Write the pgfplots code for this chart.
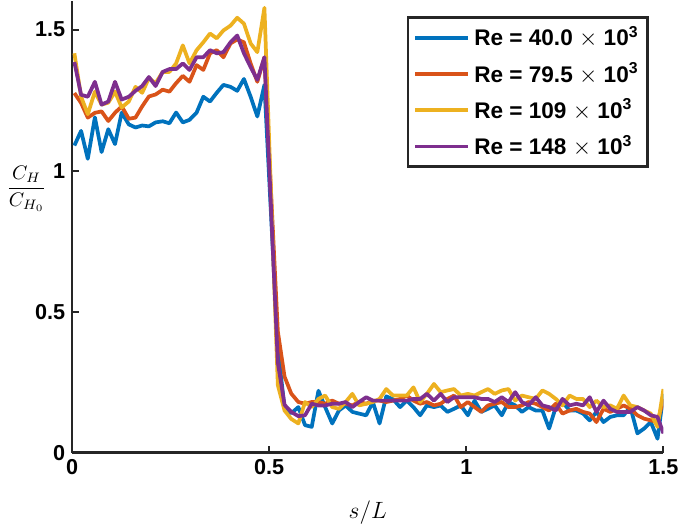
\documentclass[border=0pt]{standalone}
\usepackage{pgfplots}
\usepackage{pgfplotstable}
\pgfplotsset{compat=1.18}
\usepackage{fontspec}
\setmainfont{Liberation Sans}
\definecolor{mb}{rgb}{0,0.447,0.741}
\definecolor{mo}{rgb}{0.85,0.325,0.098}
\definecolor{my}{rgb}{0.929,0.694,0.125}
\definecolor{mp}{rgb}{0.494,0.184,0.556}
\definecolor{axc}{rgb}{0.15,0.15,0.15}
\pgfplotstableread{
x B O Y P
0.006 1.089 1.275 1.416 1.385
0.023 1.141 1.240 1.262 1.269
0.040 1.042 1.188 1.200 1.262
0.058 1.189 1.205 1.280 1.315
0.075 1.066 1.210 1.234 1.234
0.092 1.147 1.176 1.241 1.245
0.109 1.094 1.205 1.280 1.315
0.126 1.206 1.228 1.224 1.252
0.144 1.164 1.184 1.245 1.262
0.161 1.153 1.188 1.297 1.283
0.178 1.160 1.228 1.276 1.300
0.195 1.157 1.263 1.328 1.332
0.212 1.171 1.270 1.310 1.300
0.230 1.175 1.287 1.350 1.350
0.247 1.168 1.280 1.350 1.360
0.264 1.206 1.310 1.380 1.360
0.281 1.171 1.336 1.444 1.380
0.298 1.180 1.315 1.380 1.357
0.316 1.206 1.374 1.427 1.402
0.333 1.262 1.357 1.455 1.402
0.350 1.245 1.416 1.486 1.427
0.367 1.276 1.427 1.469 1.416
0.384 1.304 1.402 1.497 1.420
0.402 1.297 1.451 1.514 1.455
0.419 1.283 1.465 1.542 1.479
0.436 1.325 1.455 1.521 1.416
0.453 1.262 1.380 1.451 1.367
0.470 1.192 1.315 1.420 1.322
0.488 1.304 1.402 1.577 1.402
0.522 0.370 0.430 0.240 0.320
0.539 0.160 0.270 0.150 0.170
0.556 0.140 0.210 0.120 0.145
0.574 0.162 0.180 0.104 0.130
0.591 0.098 0.174 0.180 0.133
0.608 0.092 0.180 0.162 0.174
0.625 0.220 0.180 0.191 0.168
0.642 0.162 0.174 0.203 0.168
0.660 0.104 0.185 0.162 0.174
0.677 0.150 0.174 0.156 0.174
0.694 0.168 0.174 0.180 0.180
0.711 0.145 0.168 0.209 0.162
0.728 0.139 0.180 0.168 0.180
0.746 0.133 0.174 0.174 0.197
0.763 0.180 0.185 0.180 0.185
0.780 0.104 0.185 0.191 0.185
0.797 0.200 0.180 0.226 0.185
0.814 0.190 0.185 0.203 0.185
0.832 0.162 0.191 0.203 0.185
0.849 0.185 0.203 0.203 0.185
0.866 0.162 0.185 0.232 0.191
0.883 0.133 0.174 0.180 0.191
0.900 0.168 0.180 0.209 0.209
0.918 0.162 0.168 0.244 0.185
0.935 0.168 0.174 0.215 0.209
0.952 0.145 0.191 0.221 0.180
0.969 0.156 0.203 0.226 0.197
0.986 0.168 0.162 0.203 0.197
1.004 0.133 0.180 0.209 0.197
1.021 0.185 0.162 0.203 0.197
1.038 0.145 0.145 0.215 0.191
1.055 0.156 0.168 0.226 0.191
1.072 0.168 0.174 0.209 0.180
1.090 0.133 0.180 0.221 0.197
1.107 0.180 0.162 0.226 0.180
1.124 0.168 0.162 0.185 0.215
1.141 0.145 0.168 0.203 0.180
1.158 0.162 0.180 0.197 0.168
1.176 0.150 0.174 0.191 0.197
1.193 0.150 0.162 0.221 0.168
1.210 0.086 0.150 0.209 0.162
1.227 0.162 0.174 0.191 0.150
1.244 0.180 0.139 0.168 0.191
1.262 0.150 0.150 0.203 0.168
1.279 0.150 0.156 0.191 0.174
1.296 0.139 0.145 0.191 0.168
1.313 0.115 0.139 0.162 0.197
1.330 0.145 0.109 0.185 0.145
1.348 0.109 0.156 0.162 0.185
1.365 0.127 0.145 0.168 0.156
1.382 0.133 0.156 0.156 0.145
1.399 0.133 0.168 0.203 0.145
1.416 0.162 0.156 0.168 0.145
1.434 0.069 0.133 0.162 0.162
1.451 0.086 0.121 0.150 0.150
1.468 0.109 0.115 0.139 0.133
1.485 0.050 0.109 0.092 0.127
1.500 0.209 0.190 0.226 0.069
}\data
\begin{document}
\begin{tikzpicture}
\begin{axis}[
  scale only axis,
  width=300bp, height=229bp,
  xmin=0, xmax=1.5, ymin=0, ymax=1.6,
  axis lines=left,
  axis line style={-, line width=1.4pt, color=axc},
  tick style={line width=1pt, color=axc},
  major tick length=3.5bp,
  tick align=inside,
  xtick={0,0.5,1,1.5}, xticklabels={0,0.5,1,1.5},
  ytick={0,0.5,1,1.5}, yticklabels={0,0.5,1,1.5},
  ticklabel style={font=\fontsize{11}{13}\selectfont\bfseries},
  xlabel={$s/L$},
  xlabel style={font=\fontsize{11.5}{13}\selectfont, yshift=-6bp},
  ylabel={$\displaystyle\frac{C_H}{C_{H_0}}$},
  ylabel style={rotate=-90, at={(rel axis cs:0,0.585)}, anchor=center, xshift=-23bp, font=\fontsize{10}{12}\selectfont},
  legend style={at={(rel axis cs:0.975,0.967)}, anchor=north east, draw=axc, line width=1.2pt,
    font=\fontsize{11.5}{13}\selectfont\bfseries, row sep=3bp, inner sep=2.5bp,
    cells={anchor=west}},
  legend image code/.code={\draw[#1, line width=2pt] (0bp,0bp) -- (27bp,0bp);},
  every axis plot/.append style={line width=1.9pt, line join=round},
]
\addplot[mb] table[x=x,y=B] {\data};
\addlegendentry{Re = 40.0 $\times$ 10\textsuperscript{3}}
\addplot[mo] table[x=x,y=O] {\data};
\addlegendentry{Re = 79.5 $\times$ 10\textsuperscript{3}}
\addplot[my] table[x=x,y=Y] {\data};
\addlegendentry{Re = 109 $\times$ 10\textsuperscript{3}}
\addplot[mp] table[x=x,y=P] {\data};
\addlegendentry{Re = 148 $\times$ 10\textsuperscript{3}}
\end{axis}
\end{tikzpicture}
\end{document}
